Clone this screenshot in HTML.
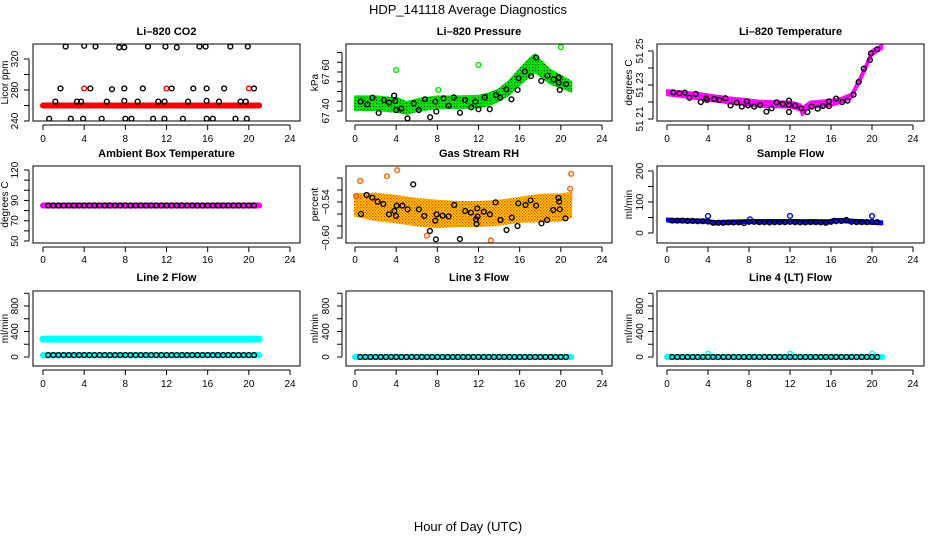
<!DOCTYPE html>
<html><head><meta charset="utf-8">
<style>
html,body{margin:0;padding:0;background:#fff;}
svg{display:block;font-family:"Liberation Sans",Arial,sans-serif;}
</style></head>
<body>
<svg id="chart" width="936" height="540" viewBox="0 0 936 540">
<defs>
<pattern id="pgreen" width="3" height="3" patternUnits="userSpaceOnUse"><rect width="3" height="3" fill="#00e000"/><rect x="1" y="1" width="1" height="1" fill="#004400"/></pattern>
<pattern id="porange" width="3" height="3" patternUnits="userSpaceOnUse"><rect width="3" height="3" fill="#ffd800"/><rect x="0" y="0" width="1.4" height="1.4" fill="#f04000"/><rect x="1.5" y="1.5" width="1.4" height="1.4" fill="#f07000"/></pattern>
<pattern id="pmag" width="3" height="3" patternUnits="userSpaceOnUse"><rect width="3" height="3" fill="#ff00ff"/><rect x="1" y="1" width="1" height="1" fill="#e040e0"/></pattern>
<pattern id="pblue" width="3" height="3" patternUnits="userSpaceOnUse"><rect width="3" height="3" fill="#0000ff"/><rect x="1" y="1" width="1" height="1" fill="#2020c0"/></pattern>
</defs>
<text x="468" y="14" text-anchor="middle" font-size="13">HDP_141118  Average Diagnostics</text>
<text x="468" y="531" text-anchor="middle" font-size="13">Hour of Day (UTC)</text>
</svg>
<script>
// ---------- data ----------
const xTicks = [0,4,8,12,16,20,24];

// CO2
const co2BandHours = [0, 21];
const co2BandValues = [260, 260];
const co2BlackHours = [0.6,1.2,1.7,2.2,2.7,3.3,3.7,3.9,4.0,4.6,5.1,5.7,6.2,6.7,7.4,7.9,7.9,7.9,8.0,8.6,9.2,9.7,10.2,10.7,11.2,11.8,11.8,11.9,12.5,13.0,13.6,14.1,14.6,15.2,15.8,15.9,15.9,15.9,16.5,17.1,17.6,18.2,18.7,19.2,19.7,19.8,19.9,20.5];
const co2BlackValues = [243,265,282,336,243,265,265,243,337,282,336,243,265,281,335,335,282,266,243,243,265,282,336,243,265,265,243,336,282,335,243,265,282,336,336,282,266,243,243,265,282,336,243,265,265,243,336,282];
const co2RedHours = [4.0,12.0,20.0];
const co2RedValues = [282,282,282];

// Pressure
const presBandHours = [0,2,4.2,5,6,8,10,12,13,14,15,16,17,17.5,18,19,20,21];
const presBandValues = [67.44,67.44,67.43,67.415,67.43,67.445,67.445,67.448,67.46,67.482,67.52,67.575,67.625,67.645,67.62,67.575,67.55,67.525];
const presBandHalf = [0.035,0.035,0.035,0.03,0.03,0.03,0.03,0.03,0.03,0.03,0.035,0.04,0.045,0.045,0.04,0.035,0.03,0.025];
const presBlackHours = [0.55,1.2,1.7,2.3,2.8,3.3,3.8,3.9,4.0,4.5,5.1,5.7,6.2,6.8,7.3,7.8,7.9,8.6,9.1,9.6,10.2,10.7,11.3,11.7,12.0,12.6,13.1,13.7,14.1,14.7,15.2,15.8,15.9,16.5,17.1,17.6,18.1,18.7,19.3,19.8,19.8,19.9,20.5];
const presBlackValues = [67.448,67.434,67.468,67.39,67.456,67.443,67.479,67.451,67.405,67.412,67.362,67.439,67.405,67.46,67.368,67.448,67.397,67.465,67.427,67.47,67.391,67.456,67.419,67.448,67.409,67.47,67.409,67.482,67.468,67.511,67.46,67.508,67.568,67.602,67.579,67.674,67.554,67.581,67.562,67.545,67.573,67.508,67.538];
const presGreenHours = [4.0,8.1,12.0,20.0];
const presGreenValues = [67.61,67.508,67.636,67.727];

// Li-820 temperature
const tempBandHours = [0,3,6,9,12,13,13.2,13.5,14,16,17,18,18.7,19.5,20,21];
const tempBandValues = [51.2255,51.2235,51.221,51.219,51.2185,51.217,51.214,51.2165,51.2185,51.2195,51.221,51.2235,51.2318,51.242,51.249,51.2525];
const tempBandHalf = [0.0015,0.0018,0.0018,0.0018,0.0018,0.0018,0.002,0.0018,0.0018,0.0018,0.0015,0.0015,0.0015,0.0015,0.0015,0.0012];
const tempBlackHours = [0.61,1.2,1.75,2.2,2.8,3.3,3.8,3.9,4.6,5.1,5.7,6.2,6.8,7.3,7.8,7.9,8.5,9.1,9.7,10.2,10.7,11.3,11.9,11.9,11.9,12.5,13.1,13.7,14.1,14.7,15.2,15.8,15.8,16.5,17.1,17.6,18.2,18.7,19.2,19.8,19.9,20.5];
const tempBlackValues = [51.2257,51.2251,51.2255,51.2225,51.2247,51.220,51.2222,51.2212,51.2218,51.2212,51.2222,51.218,51.2196,51.2173,51.2204,51.218,51.2173,51.2182,51.2143,51.2163,51.2198,51.2188,51.2182,51.2141,51.2208,51.2178,51.2163,51.2141,51.2173,51.2161,51.2176,51.2176,51.2204,51.222,51.220,51.2208,51.2243,51.2318,51.2396,51.2447,51.2486,51.251];

// shared sampling hours for the flat series
const sampleHours = [0.5,1.0,1.5,2.0,2.5,3.0,3.5,4.0,4.5,5.0,5.5,6.0,6.5,7.0,7.5,8.0,8.5,9.0,9.5,10.0,10.5,11.0,11.5,12.0,12.5,13.0,13.5,14.0,14.5,15.0,15.5,16.0,16.5,17.0,17.5,18.0,18.5,19.0,19.5,20.0,20.5];

// Ambient box temperature
const ambBandHours = [0,21];
const ambBandValues = [85,85];
const ambBlackValues = [85,85,85,85,85,85,85,85,85,85,85,85,85,85,85,85,85,85,85,85,85,85,85,85,85,85,85,85,85,85,85,85,85,85,85,85,85,85,85,85,85];

// Gas stream RH
const rhBandHours = [0,2,4,6,8,10,12,14,16,18,20,21];
const rhBandValues = [-0.545,-0.548,-0.552,-0.557,-0.56,-0.56,-0.56,-0.558,-0.553,-0.55,-0.549,-0.545];
const rhBandHalf = [0.018,0.022,0.022,0.022,0.022,0.02,0.02,0.02,0.02,0.022,0.022,0.02];
const rhBlackHours = [0.58,1.13,1.68,2.2,2.75,3.3,3.82,3.98,4.05,4.6,5.11,5.66,6.21,6.73,7.28,7.8,7.86,7.93,8.51,9.09,9.64,10.19,10.71,11.26,11.75,11.81,11.88,11.91,12.52,13.11,13.66,14.14,14.72,15.24,15.79,15.86,16.57,17.06,17.6,18.12,18.67,19.26,19.77,19.84,19.9,20.45];
const rhBlackValues = [-0.560,-0.5283,-0.5328,-0.5394,-0.5433,-0.5606,-0.555,-0.5633,-0.5461,-0.5461,-0.5522,-0.5106,-0.5522,-0.5633,-0.5883,-0.5711,-0.6022,-0.5606,-0.5628,-0.5639,-0.545,-0.6017,-0.555,-0.5578,-0.5689,-0.5767,-0.5506,-0.5644,-0.5561,-0.5606,-0.5406,-0.57,-0.5867,-0.5661,-0.58,-0.5422,-0.545,-0.5372,-0.5461,-0.5756,-0.57,-0.5533,-0.5333,-0.5394,-0.5522,-0.5672];
const rhOrangeHours = [0.5,3.1,4.1,7.0,13.2,21.0,0.1,20.9];
const rhOrangeValues = [-0.505,-0.497,-0.487,-0.596,-0.604,-0.493,-0.53,-0.518];

// Sample flow
const sfBandHours = [0,0.5,4,4.5,8,12,16,16.2,18,21];
const sfBandValues = [42,40,38,33,37,37,36,41,38,33];
const sfBlackValues = [40,40,40,39,39,38,38,37,33,33,33,34,34,34,32,36,36,35,35,34,35,35,35,36,35,34,34,35,35,34,33,36,38,39,42,36,35,35,35,36,35];
const sfBlueHours = [4.0,12.0,20.0,8.1];
const sfBlueValues = [55,55,55,44];

// Line 2 flow
const l2HighHours = [0,21];
const l2HighValues = [280,280];
const l2LowHours = [0,21];
const l2LowValues = [30,30];
const l2BlackValues = [30,30,30,30,30,30,30,30,30,30,30,30,30,30,30,30,30,30,30,30,30,30,30,30,30,30,30,30,30,30,30,30,30,30,30,30,30,30,30,30,30];

// Line 3 flow
const l3BandHours = [0,21];
const l3BandValues = [0,0];
const l3BlackValues = [0,0,0,0,0,0,0,0,0,0,0,0,0,0,0,0,0,0,0,0,0,0,0,0,0,0,0,0,0,0,0,0,0,0,0,0,0,0,0,0,0];

// Line 4 flow
const l4BandHours = [0,21];
const l4BandValues = [0,0];
const l4BlackValues = [0,0,0,0,0,0,0,0,0,0,0,0,0,0,0,0,0,0,0,0,0,0,0,0,0,0,0,0,0,0,0,0,0,0,0,0,0,0,0,0,0];
const l4CyanHours = [4.0,12.0,20.0];
const l4CyanValues = [50,50,50];

// ---------- drawing ----------
const svg = document.getElementById('chart');
const NS = 'http://www.w3.org/2000/svg';
function mk(tag, attrs, parent){
  const e = document.createElementNS(NS, tag);
  for (const k in attrs) e.setAttribute(k, attrs[k]);
  (parent||svg).appendChild(e);
  return e;
}
const cols = [{l:33,r:300,x0:43,x24:290,tl:18,yl:8},{l:346,r:612,x0:355,x24:602,tl:329,yl:318},{l:657,r:924,x0:667,x24:913,tl:643,yl:632}];
const rows = [{t:44,b:121,title:35,tick:138},{t:166,b:243,title:157,tick:259},{t:291,b:366,title:281,tick:383}];

function panel(ci, ri, name, title, ylab, v0, p0, v1, p1, yticks, ylabels, fmt){
  const c = cols[ci], r = rows[ri];
  const g = mk('g', {});
  
  
  const X = h => c.x0 + (h/24)*(c.x24 - c.x0);
  const Y = v => p0 + (v - v0)/(v1 - v0)*(p1 - p0);
  const clipId = 'clip-' + name;
  const cp = mk('clipPath', {id: clipId}, g);
  mk('rect', {x:c.l, y:r.t, width:c.r-c.l, height:r.b-r.t}, cp);
  const plot = mk('g', {'clip-path':'url(#'+clipId+')'}, g);
  
  
  const box = mk('rect', {x:c.l, y:r.t, width:c.r-c.l, height:r.b-r.t, fill:'none', stroke:'#000', 'stroke-width':1}, g);
  
  
  const t = mk('text', {x:(c.l+c.r)/2, y:r.title, 'text-anchor':'middle', 'font-size':11, 'font-weight':'bold'}, g);
  
  
  t.textContent = title;
  const xa = mk('g', {}, g);
  
  
  mk('line', {x1:X(0), x2:X(24), y1:r.b+4, y2:r.b+4, stroke:'#000'}, xa);
  xTicks.forEach(h => {
    mk('line', {x1:X(h), x2:X(h), y1:r.b+4, y2:r.b+9, stroke:'#000'}, xa);
    const tx = mk('text', {x:X(h), y:r.tick+4, 'text-anchor':'middle', 'font-size':10}, xa);
    
    
    tx.textContent = h;
  });
  const ya = mk('g', {}, g);
  
  
  const yt = yticks.map(Y).filter(p => p >= r.t-3 && p <= r.b+3);
  mk('line', {x1:c.l-4, x2:c.l-4, y1:Math.min(...yt), y2:Math.max(...yt), stroke:'#000'}, ya);
  yticks.forEach(v => {
    const p = Y(v); if (p < r.t-3 || p > r.b+3) return;
    mk('line', {x1:c.l-4, x2:c.l-9, y1:p, y2:p, stroke:'#000'}, ya);
  });
  ylabels.forEach(v => {
    const p = Y(v);
    const tx = mk('text', {x:c.tl, y:p, 'text-anchor':'middle', 'font-size':10, transform:'rotate(-90 '+c.tl+' '+p+')'}, ya);
    
    
    tx.textContent = fmt ? fmt(v) : String(v);
  });
  const ym = (r.t + r.b)/2;
  const yl = mk('text', {x:c.yl, y:ym, 'text-anchor':'middle', 'font-size':10, transform:'rotate(-90 '+c.yl+' '+ym+')'}, g);
  
  
  yl.textContent = ylab;
  return {plot, X, Y};
}
function band(P, hours, vals, half, fill, label){
  const top = hours.map((h,i) => P.X(h)+','+P.Y(vals[i]+half[i]));
  const bot = hours.map((h,i) => P.X(h)+','+P.Y(vals[i]-half[i])).reverse();
  const poly = mk('polygon', {points: top.concat(bot).join(' '), fill: fill, stroke: fill, 'stroke-width': 2, 'stroke-linejoin':'round'}, P.plot);
  
  
}
function thick(P, hours, vals, color, w, label){
  const pts = hours.map((h,i) => P.X(h)+','+P.Y(vals[i])).join(' ');
  const pl = mk('polyline', {points: pts, fill:'none', stroke: color, 'stroke-width': w, 'stroke-linecap':'round'}, P.plot);
  
  
}
function points(P, hours, vals, color, label){
  const g = mk('g', {}, P.plot);
  
  
  hours.forEach((h,i) => {
    const c = mk('circle', {cx:P.X(h), cy:P.Y(vals[i]), r:2.4, fill:'none', stroke:color, 'stroke-width':1.4}, g);
    
    
  });
}

let P;
P = panel(0,0,'co2','Li\u2013820 CO2','Licor ppm',240,121,320,59,[240,260,280,300,320],[240,280,320]);
thick(P, co2BandHours, co2BandValues, '#ff0000', 6, 'co2-red-series');
points(P, co2RedHours, co2RedValues, '#ff0000', 'co2-red-points');
points(P, co2BlackHours, co2BlackValues, '#000', 'co2-hourly-points');

P = panel(1,0,'pressure','Li\u2013820 Pressure','kPa',67.40,111,67.60,72,[67.40,67.45,67.50,67.55,67.60,67.65,67.70],[67.40,67.60],v=>v.toFixed(2).replace('.',' '));
band(P, presBandHours, presBandValues, presBandHalf, 'url(#pgreen)', 'pressure-green-series');
points(P, presGreenHours, presGreenValues, '#00dd00', 'pressure-green-outliers');
points(P, presBlackHours, presBlackValues, '#000', 'pressure-hourly-points');

P = panel(2,0,'li820-temp','Li\u2013820 Temperature','degrees C',51.21,119,51.25,51,[51.21,51.22,51.23,51.24,51.25],[51.21,51.23,51.25],v=>v.toFixed(2).replace('.',' '));
band(P, tempBandHours, tempBandValues, tempBandHalf, 'url(#pmag)', 'temp-magenta-series');
points(P, tempBlackHours, tempBlackValues, '#000', 'temp-hourly-points');

P = panel(0,1,'ambient-temp','Ambient Box Temperature','degrees C',50,241,120,170,[50,60,70,80,90,100,110,120],[50,70,90,120]);
thick(P, ambBandHours, ambBandValues, '#ff00ff', 6, 'ambient-magenta-series');
points(P, sampleHours, ambBlackValues, '#000', 'ambient-hourly-points');

P = panel(1,1,'gas-rh','Gas Stream RH','percent',-0.54,202,-0.60,238,[-0.60,-0.58,-0.56,-0.54,-0.52,-0.50],[-0.60,-0.54],v=>'\u2212'+Math.abs(v).toFixed(2));
band(P, rhBandHours, rhBandValues, rhBandHalf, 'url(#porange)', 'rh-orange-series');
points(P, rhOrangeHours, rhOrangeValues, '#ff6000', 'rh-orange-outliers');
points(P, rhBlackHours, rhBlackValues, '#000', 'rh-hourly-points');

P = panel(2,1,'sample-flow','Sample Flow','ml/min',0,233,200,171,[0,50,100,150,200],[0,100,200]);
band(P, sfBandHours, sfBandValues, sfBandHours.map(()=>5), 'url(#pblue)', 'sample-flow-blue-series');
points(P, sfBlueHours, sfBlueValues, '#0000ff', 'sample-flow-blue-outliers');
points(P, sampleHours, sfBlackValues, '#000', 'sample-flow-hourly-points');

const flowTicks = [0,200,400,600,800,1000];
P = panel(0,2,'line2-flow','Line 2 Flow','ml/min',0,357,800,306,flowTicks,[0,400,800]);
thick(P, l2HighHours, l2HighValues, '#00ffff', 7, 'line2-high-series');
thick(P, l2LowHours, l2LowValues, '#00ffff', 6, 'line2-low-series');
points(P, sampleHours, l2BlackValues, '#000', 'line2-hourly-points');

P = panel(1,2,'line3-flow','Line 3 Flow','ml/min',0,357,800,306,flowTicks,[0,400,800]);
thick(P, l3BandHours, l3BandValues, '#00ffff', 6, 'line3-cyan-series');
points(P, sampleHours, l3BlackValues, '#000', 'line3-hourly-points');

P = panel(2,2,'line4-flow','Line 4 (LT) Flow','ml/min',0,357,800,306,flowTicks,[0,400,800]);
thick(P, l4BandHours, l4BandValues, '#00ffff', 6, 'line4-cyan-series');
points(P, l4CyanHours, l4CyanValues, '#00ffff', 'line4-cyan-outliers');
points(P, sampleHours, l4BlackValues, '#000', 'line4-hourly-points');
</script>
</body></html>
